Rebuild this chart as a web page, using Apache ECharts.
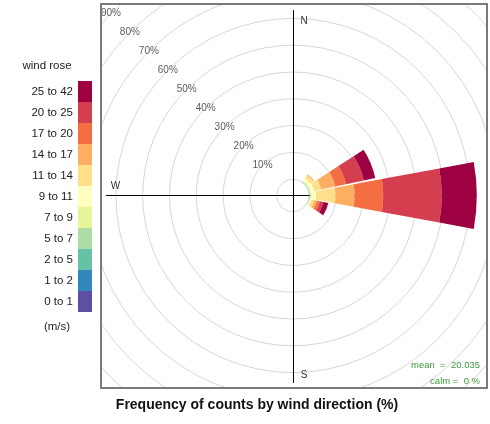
<!DOCTYPE html>
<html>
<head>
<meta charset="utf-8">
<title>wind rose</title>
<script src="https://cdn.jsdelivr.net/npm/echarts@6/dist/echarts.min.js"></script>
<style>
  html, body { margin: 0; padding: 0; background: #fff; }
  #main { width: 490px; height: 424px; }
</style>
</head>
<body>
<div id="main"></div>
<script>
// 16 wind directions, clockwise from north
var directions = ['N', 'NNE', 'NE', 'ENE', 'E', 'ESE', 'SE', 'SSE', 'S', 'SSW', 'SW', 'WSW', 'W', 'WNW', 'NW', 'NNW'];
// speed bins (m/s), inner to outer
var speedBins = ['0 to 1', '1 to 2', '2 to 5', '5 to 7', '7 to 9', '9 to 11', '11 to 14', '14 to 17', '17 to 20', '20 to 25', '25 to 42'];
var binColors = ['#5E4FA2', '#3288BD', '#66C2A5', '#ABDDA4', '#E6F598', '#FFFFBF', '#FEE08B', '#FDAE61', '#F46D43', '#D53E4F', '#9E0142'];

// frequency (%) of each speed bin, only for directions with data
var freqNE  = [0, 0, 0.1, 0.2, 0.4, 1.0, 1.5, 0.4, 0, 0, 0];
var freqENE = [0, 0, 0.1, 0.2, 0.4, 1.3, 2.7, 5.4, 4.0, 6.8, 4.4];
var freqE   = [0, 0, 0.2, 0.25, 0.3, 1.8, 7.3, 7.05, 10.7, 21.8, 13.1];
var freqESE = [0, 0, 0.1, 0.1, 0.2, 0.5, 1.2, 1.0, 1.1, 1.3, 1.9];

// rings drawn every 10 %
var ringTicks = [10, 20, 30, 40, 50, 60, 70, 80, 90];
var meanText = 'mean  =  20.035';
var calmText = 'calm =  0 %';

var freqByDir = { NE: freqNE, ENE: freqENE, E: freqE, ESE: freqESE };

// panel geometry
var cx = 293, cy = 195.5;
var innerR = 16.3, pxPerPct = 2.68;
var font = '"Liberation Sans", Arial, sans-serif';

var chart = echarts.init(document.getElementById('main'));

var series = [];
speedBins.forEach(function (bin, i) {
    series.push({
        name: bin,
        type: 'bar',
        coordinateSystem: 'polar',
        stack: 'rose',
        barCategoryGap: '7%',
        silent: true,
        itemStyle: { color: binColors[i] },
        data: directions.map(function (d) {
            return freqByDir[d] ? freqByDir[d][i] : 0;
        })
    });
});

/* ring labels along the NW direction */
series.push({
    type: 'scatter',
    coordinateSystem: 'polar',
    symbolSize: 0,
    silent: true,
    z: 3,
    label: {
        show: true,
        position: 'inside',
        color: '#333',
        fontSize: 10,
        fontFamily: font,
        formatter: function (p) { return p.value[0] + '%'; }
    },
    data: ringTicks.map(function (t) { return [t, 'NW']; })
});

// crisp 1px axis cross
var lx = Math.round(cx) + 0.5, ly = Math.floor(cy) + 0.5;
var option = {
    animation: false,
    polar: {
        center: [cx, cy],
        radius: [innerR, innerR + pxPerPct * 90]
    },
    angleAxis: {
        type: 'category',
        data: directions,
        startAngle: 90 + 11.25,
        clockwise: true,
        axisLine: { show: false },
        axisTick: { show: false },
        axisLabel: { show: false },
        splitLine: { show: false }
    },
    radiusAxis: {
        type: 'value',
        min: 0,
        max: 90,
        interval: 10,
        axisLine: { show: false },
        axisTick: { show: false },
        axisLabel: { show: false },
        splitLine: { show: true, lineStyle: { color: '#d6d6d6', width: 1 } }
    },
    legend: {
        data: speedBins.slice().reverse(),
        orient: 'vertical',
        right: 490 - 92,
        top: 81,
        padding: 0,
        align: 'right',
        itemWidth: 14,
        itemHeight: 21,
        itemGap: 0,
        icon: 'rect',
        selectedMode: false,
        z: 20,
        textStyle: { color: '#222', fontSize: 11.5, fontFamily: font }
    },
    graphic: [
        // axis cross
        { type: 'line', z: 1, silent: true, shape: { x1: lx, y1: 10, x2: lx, y2: 383 }, style: { stroke: '#000', lineWidth: 1 } },
        { type: 'line', z: 1, silent: true, shape: { x1: 106, y1: ly, x2: cx + 180, y2: ly }, style: { stroke: '#000', lineWidth: 1 } },
        // white masks outside the panel
        { type: 'rect', z: 10, silent: true, shape: { x: 0, y: 0, width: 100, height: 424 }, style: { fill: '#fff' } },
        { type: 'rect', z: 10, silent: true, shape: { x: 488, y: 0, width: 10, height: 424 }, style: { fill: '#fff' } },
        { type: 'rect', z: 10, silent: true, shape: { x: 0, y: 0, width: 490, height: 3 }, style: { fill: '#fff' } },
        { type: 'rect', z: 10, silent: true, shape: { x: 0, y: 389, width: 490, height: 40 }, style: { fill: '#fff' } },
        // panel border
        { type: 'rect', z: 11, silent: true, shape: { x: 101, y: 4, width: 386, height: 384 }, style: { fill: null, stroke: '#7a7a7a', lineWidth: 2 } },
        // compass letters
        { type: 'text', z: 12, style: { text: 'N', x: cx + 11, y: cy - 174, align: 'center', verticalAlign: 'middle', fontSize: 10, fontFamily: font, fill: '#333' } },
        { type: 'text', z: 12, style: { text: 'S', x: cx + 11, y: cy + 179.5, align: 'center', verticalAlign: 'middle', fontSize: 10, fontFamily: font, fill: '#333' } },
        { type: 'text', z: 12, style: { text: 'W', x: cx - 177.5, y: cy - 9.5, align: 'center', verticalAlign: 'middle', fontSize: 10, fontFamily: font, fill: '#333' } },
        // key title and units
        { type: 'text', z: 12, style: { text: 'wind rose', x: 47, y: 66, align: 'center', verticalAlign: 'middle', fontSize: 11.5, fontFamily: font, fill: '#222' } },
        { type: 'text', z: 12, style: { text: '(m/s)', x: 57, y: 327, align: 'center', verticalAlign: 'middle', fontSize: 11.5, fontFamily: font, fill: '#222' } },
        // stats
        { type: 'text', z: 12, style: { text: meanText, x: 480, y: 365, align: 'right', verticalAlign: 'middle', fontSize: 9.5, fontFamily: font, fill: '#3a9a3a' } },
        { type: 'text', z: 12, style: { text: calmText, x: 480, y: 381, align: 'right', verticalAlign: 'middle', fontSize: 9.5, fontFamily: font, fill: '#3a9a3a' } },
        // main title
        { type: 'text', z: 12, style: { text: 'Frequency of counts by wind direction (%)', x: 257, y: 405, align: 'center', verticalAlign: 'middle', fontSize: 14, fontWeight: 'bold', fontFamily: font, fill: '#111' } }
    ],
    series: series
};

chart.setOption(option);
</script>
</body>
</html>
